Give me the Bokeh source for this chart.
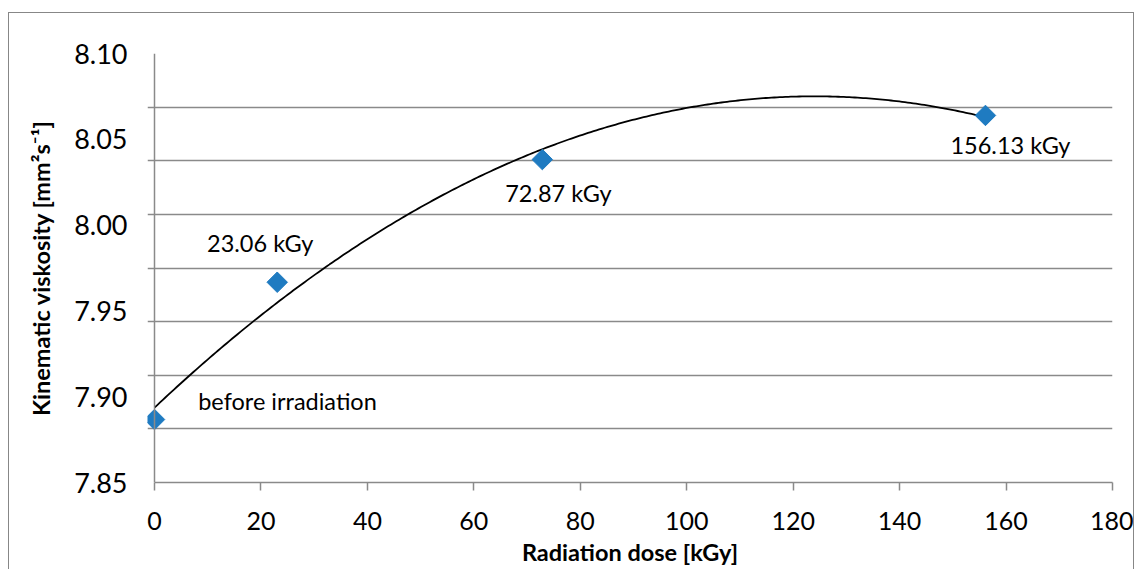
import numpy as np
from bokeh.plotting import figure
from bokeh.models import FixedTicker, NumeralTickFormatter, ColumnDataSource, Range1d, Span
from bokeh.embed import file_html
from bokeh.resources import INLINE

# ---- data ----
dose = [0.0, 23.06, 72.87, 156.13]
viscosity = [7.8867, 7.9667, 8.0382, 8.0639]
point_labels = ["before irradiation", "23.06 kGy", "72.87 kGy", "156.13 kGy"]
x_ticks = [0, 20, 40, 60, 80, 100, 120, 140, 160, 180]
y_label_ticks = [7.85, 7.90, 7.95, 8.00, 8.05, 8.10]
y_grid_lines = [7.85, 7.88125, 7.9125, 7.94375, 7.975, 8.00625, 8.0375, 8.06875, 8.10]

# ---- styling for labels (screen offsets, px) ----
label_dx = [133, -17, 16, 25]
label_dy = [-19, -39, 33, 30]

FONT = "Lato"
GRID = "#8a8a8a"

X_MAX = 180.0
PX_PER_UNIT = 958 / X_MAX      # frame px per data unit (0..180 spans 958 px)
TICK_PX = 7                    # gridlines overhang left of the y axis line, like tick marks

p = figure(width=1126, height=557, output_backend="svg", toolbar_location=None,
           x_range=Range1d(-TICK_PX / PX_PER_UNIT, X_MAX), y_range=Range1d(7.85, 8.10),
           min_border_left=145 - TICK_PX, min_border_right=23, min_border_top=40,
           min_border_bottom=88)
p.styles = {"border-top": "1px solid #878787", "border-left": "1px solid #878787",
            "border-right": "1px solid #878787", "margin-top": "12px", "margin-left": "8px"}
p.outline_line_color = None

# grid
p.xgrid.visible = False
p.ygrid.ticker = FixedTicker(ticks=y_grid_lines)
p.ygrid.grid_line_color = GRID
p.ygrid.grid_line_width = 1.5

# x axis
p.xaxis.ticker = FixedTicker(ticks=x_ticks)
p.xaxis.bounds = (0, X_MAX)
p.xaxis.axis_line_color = GRID
p.xaxis.axis_line_width = 1.5
p.xaxis.major_tick_line_color = GRID
p.xaxis.major_tick_line_width = 1.5
p.xaxis.major_tick_in = 0
p.xaxis.major_tick_out = 8
p.xaxis.minor_tick_line_color = None
p.xaxis.major_label_text_font = FONT
p.xaxis.major_label_text_font_size = "25px"
p.xaxis.major_label_text_color = "#000000"
p.xaxis.major_label_standoff = 21
p.xaxis.axis_label = "Radiation dose [kGy]"
p.xaxis.axis_label_text_font = FONT
p.xaxis.axis_label_text_font_style = "bold"
p.xaxis.axis_label_text_font_size = "23.5px"
p.xaxis.axis_label_text_color = "#000000"
p.xaxis.axis_label_standoff = 5

# y axis: labels in the left panel, axis line drawn at x = 0
p.yaxis.ticker = FixedTicker(ticks=y_label_ticks)
p.yaxis.formatter = NumeralTickFormatter(format="0.00")
p.yaxis.axis_line_color = None
p.yaxis.major_tick_line_color = None
p.yaxis.minor_tick_line_color = None
p.yaxis.major_tick_in = 0
p.yaxis.major_tick_out = 0
p.yaxis.major_label_text_font = FONT
p.yaxis.major_label_text_font_size = "27px"
p.yaxis.major_label_text_color = "#000000"
p.yaxis.major_label_standoff = 20
p.yaxis.axis_label = "Kinematic viskosity [mm²s⁻¹]"
p.yaxis.axis_label_text_font = FONT
p.yaxis.axis_label_text_font_style = "bold"
p.yaxis.axis_label_text_font_size = "23.5px"
p.yaxis.axis_label_text_color = "#000000"
p.yaxis.axis_label_standoff = 16
p.add_layout(Span(location=0, dimension="height", line_color=GRID, line_width=1.5))

# trend line (2nd order polynomial fit, as Excel trendline)
coef = np.polyfit(dose, viscosity, 2)
xs = np.linspace(min(dose), max(dose), 300)
p.line(xs, np.polyval(coef, xs), line_color="black", line_width=1.8)

# points
src = ColumnDataSource(dict(x=dose, y=viscosity, text=point_labels, dx=label_dx, dy=label_dy))
p.scatter("x", "y", source=src, marker="square", size=14.5, angle=np.pi / 4,
          fill_color="#1f7bc1", line_color="#1f7bc1")
p.text("x", "y", text="text", source=src, x_offset="dx", y_offset="dy",
       text_align="center", text_baseline="middle", text_font={"value": FONT},
       text_font_size="23.5px", text_color="#000000")

open("out.html", "w").write(file_html(p, INLINE))
